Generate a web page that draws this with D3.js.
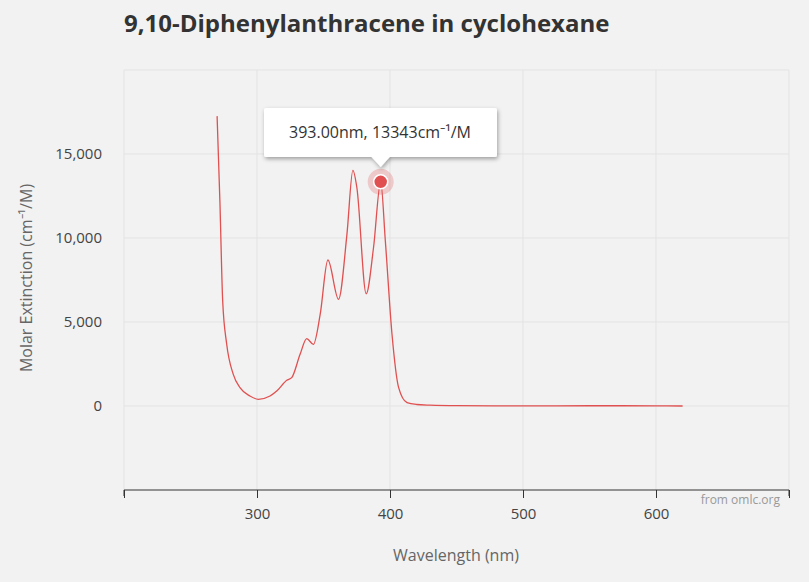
<!DOCTYPE html>
<html><head><meta charset="utf-8">
<script src="https://cdn.jsdelivr.net/npm/d3@7"></script>
<style>
body{margin:0;background:#f2f2f2;font-family:"Open Sans",sans-serif;}
</style></head><body>
<script>
"use strict";
// spectrum
const wavelength = [270, 272.1, 274.2, 277.2, 282.1, 287.2, 294.7, 301, 309.8, 314.8, 322.4, 326.1, 332.4, 337.4, 342.4, 347.5, 353.3, 361.3, 367.6, 372.1, 375.1, 382.1, 387.6, 393, 396.5, 401.5, 406.5, 412.8, 420, 430, 450, 500, 550, 600, 620];
const extinction = [17255, 12200, 6250, 3690, 1900, 1090, 595, 400, 595, 890, 1530, 1690, 3080, 4010, 3670, 5450, 8690, 6350, 10200, 14020, 12990, 6680, 9420, 13343, 9820, 4270, 1090, 200, 90, 50, 20, 10, 15, 10, 0];
const xTicks = [200, 300, 400, 500, 600, 700];
const xLabels = [300, 400, 500, 600];
const yTicks = [0, 5000, 10000, 15000];
const hover = {x: 393, y: 13343};

const w = 809, h = 582;
const pLeft = 124, pRight = 789, pTop = 70, pBottom = 490;
const data = wavelength.map((d, i) => ({x: d, y: extinction[i]}));

const svg = d3.select("body").append("svg").attr("width", w).attr("height", h).style("display", "block");
const xScale = d3.scaleLinear().domain([200, 700]).range([pLeft, pRight]);
const yScale = d3.scaleLinear().domain([-5000, 20000]).range([pBottom, pTop]);

svg.append("text").attr("x", 124).attr("y", 32).attr("font-size", 24).attr("font-weight", "bold")
  .attr("fill", "#333").text("9,10-Diphenylanthracene in cyclohexane");

//grid
const grid = svg.append("g").attr("stroke", "#e3e3e3");
grid.selectAll(".vx").data(xTicks).enter().append("line")
  .attr("x1", d => xScale(d)).attr("x2", d => xScale(d)).attr("y1", pTop).attr("y2", pBottom);
grid.selectAll(".hy").data(yTicks.concat([20000])).enter().append("line")
  .attr("x1", pLeft).attr("x2", pRight).attr("y1", d => yScale(d)).attr("y2", d => yScale(d));

//x axis
const xAxis = d3.axisBottom(xScale).tickValues(xTicks).tickSize(8).tickPadding(10)
  .tickFormat(d => xLabels.includes(d) ? d : "");
svg.append("g").attr("transform", `translate(0,${pBottom})`).call(xAxis)
  .call(g => g.selectAll("line,path").attr("stroke", "#333"))
  .call(g => g.select(".domain").attr("d", `M${pLeft},6V0H${pRight}V6`))
  .call(g => g.selectAll("text").attr("font-size", 15).attr("fill", "#444").attr("font-family", "Open Sans"));

//y axis
const yAxis = d3.axisLeft(yScale).tickValues(yTicks).tickSize(0).tickPadding(22);
svg.append("g").attr("transform", `translate(${pLeft},0)`).call(yAxis)
  .call(g => g.select(".domain").remove())
  .call(g => g.selectAll("text").attr("font-size", 15).attr("fill", "#444").attr("font-family", "Open Sans"));

svg.append("text").attr("x", 456).attr("y", 561).attr("text-anchor", "middle").attr("font-size", 16)
  .attr("fill", "#666").text("Wavelength (nm)");
svg.append("text").attr("transform", "translate(32,278) rotate(-90)").attr("text-anchor", "middle")
  .attr("font-size", 16).attr("fill", "#666").text("Molar Extinction (cm⁻¹/M)");
svg.append("text").attr("x", 780).attr("y", 504).attr("text-anchor", "end").attr("font-size", 12)
  .attr("fill", "#999").text("from omlc.org");

//curve
const line = d3.line().x(d => xScale(d.x)).y(d => yScale(d.y)).curve(d3.curveMonotoneX);
svg.append("path").datum(data).attr("d", line).attr("fill", "none").attr("stroke", "#e05050").attr("stroke-width", 1.3);

//hover marker
const hx = xScale(hover.x), hy = yScale(hover.y);
svg.append("circle").attr("cx", hx).attr("cy", hy).attr("r", 13).attr("fill", "#e05050").attr("opacity", 0.25);
svg.append("circle").attr("cx", hx).attr("cy", hy).attr("r", 7).attr("fill", "#e05050").attr("stroke", "#fff").attr("stroke-width", 1.5);

//tooltip
const defs = svg.append("defs");
const f = defs.append("filter").attr("id", "sh").attr("x", "-20%").attr("y", "-30%").attr("width", "140%").attr("height", "170%");
f.append("feDropShadow").attr("dx", 1).attr("dy", 2).attr("stdDeviation", 2).attr("flood-opacity", 0.35);
const tip = svg.append("g").attr("filter", "url(#sh)");
tip.append("path").attr("fill", "#fff")
  .attr("d", `M264,110 Q264,108 266,108 H495 Q497,108 497,110 V155 Q497,157 495,157 H${hx + 9} L${hx},167 L${hx - 9},157 H266 Q264,157 264,155 Z`);
svg.append("text").attr("x", 380).attr("y", 138).attr("text-anchor", "middle").attr("font-size", 16)
  .attr("fill", "#333").text(`${hover.x.toFixed(2)}nm, ${hover.y}cm⁻¹/M`);
</script>
</body></html>
